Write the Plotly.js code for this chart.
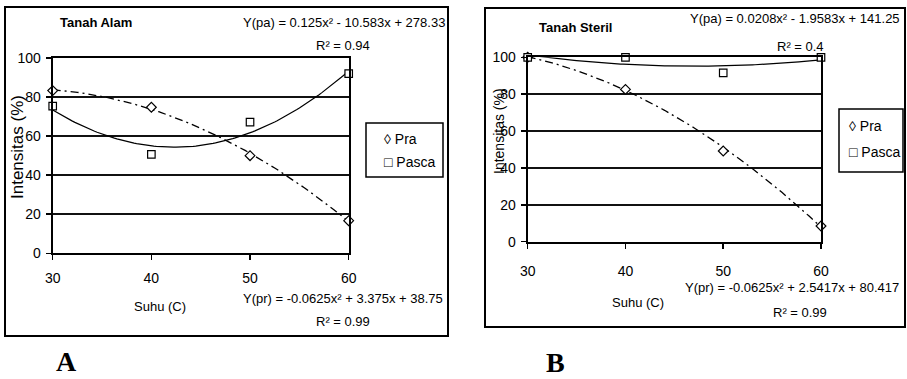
<!DOCTYPE html>
<html>
<head>
<meta charset="utf-8">
<script src="https://cdn.plot.ly/plotly-3.0.1.min.js"></script>
<style>html,body{margin:0;padding:0;background:#fff}#chart{width:907px;height:379px}</style>
</head>
<body>
<div id="chart"></div>
<script>
// ---- data ----
const suhu = [30, 40, 50, 60];                 // Suhu (C)
const alamPra = [83.3, 74.8, 50.0, 16.7];      // Tanah Alam, Pra
const alamPasca = [75.4, 50.7, 67.2, 92.0];    // Tanah Alam, Pasca
const sterilPra = [100.0, 82.6, 49.2, 8.5];    // Tanah Steril, Pra
const sterilPasca = [100.0, 100.0, 91.6, 100.0]; // Tanah Steril, Pasca
// trendline coefficients as printed on the chart [a, b, c] for a*x^2 + b*x + c
const alamPraFit = [-0.0625, 3.375, 38.75];
const alamPascaFit = [0.125, -10.583, 278.33];
const sterilPraFit = [-0.0625, 2.5417, 80.417];
const sterilPascaFit = [0.0208, -1.9583, 141.25];
const xTicks = [30, 40, 50, 60];
const yTicks = [0, 20, 40, 60, 80, 100];
const seriesNames = ['Pra', 'Pasca'];
const panelTitles = ['Tanah Alam', 'Tanah Steril'];
const panelLetters = ['A', 'B'];
const eqPa = ['Y(pa) = 0.125x\u00B2 - 10.583x + 278.33', 'Y(pa) = 0.0208x\u00B2 - 1.9583x + 141.25'];
const r2Pa = ['R\u00B2 = 0.94', 'R\u00B2 = 0.4'];
const eqPr = ['Y(pr) = -0.0625x\u00B2 + 3.375x + 38.75', 'Y(pr) = -0.0625x\u00B2 + 2.5417x + 80.417'];
const r2Pr = ['R\u00B2 = 0.99', 'R\u00B2 = 0.99'];

// ---- helpers ----
const W = 907, H = 379;
const px = v => v / W;
const py = v => 1 - v / H;
const SANS = "'Liberation Sans', Arial, sans-serif";
const SERIF = "'Liberation Serif', 'Times New Roman', serif";

function trend(coef, x0, x1) {
  const xs = [], ys = [];
  for (let i = 0; i <= 120; i++) {
    const x = x0 + (x1 - x0) * i / 120;
    xs.push(x);
    ys.push(coef[0] * x * x + coef[1] * x + coef[2]);
  }
  return {xs, ys};
}

const traces = [];
function addPanel(k, pra, pasca, praFit, pascaFit) {
  const xa = k === 0 ? 'x' : 'x2', ya = k === 0 ? 'y' : 'y2';
  const tp = trend(pascaFit, suhu[0], suhu[suhu.length - 1]);
  const tr = trend(praFit, suhu[0], suhu[suhu.length - 1]);
  traces.push({x: tp.xs, y: tp.ys, xaxis: xa, yaxis: ya, mode: 'lines', showlegend: false, hoverinfo: 'skip',
    line: {color: '#000', width: 1.2}});
  traces.push({x: tr.xs, y: tr.ys, xaxis: xa, yaxis: ya, mode: 'lines', showlegend: false, hoverinfo: 'skip',
    line: {color: '#000', width: 1.3, dash: '8px,4px,2px,4px'}});
  traces.push({x: suhu, y: pra, xaxis: xa, yaxis: ya, mode: 'markers', name: seriesNames[0], showlegend: false,
    cliponaxis: false, marker: {symbol: 'diamond', size: 7.5, color: '#fff', line: {color: '#000', width: 1.2}}});
  traces.push({x: suhu, y: pasca, xaxis: xa, yaxis: ya, mode: 'markers', name: seriesNames[1], showlegend: false,
    cliponaxis: false, marker: {symbol: 'square', size: 7.5, color: '#fff', line: {color: '#000', width: 1.2}}});
}
addPanel(0, alamPra, alamPasca, alamPraFit, alamPascaFit);
addPanel(1, sterilPra, sterilPasca, sterilPraFit, sterilPascaFit);

function xAxis(d0, d1, anchor, standoff) {
  return {domain: [px(d0), px(d1)], anchor: anchor, range: [xTicks[0], xTicks[xTicks.length - 1]],
    tickmode: 'array', tickvals: xTicks, ticks: 'outside', ticklen: 5, tickwidth: 1.5, tickcolor: '#000',
    showline: true, linewidth: 2, linecolor: '#000', mirror: true, showgrid: false, zeroline: false,
    tickfont: {family: SANS, size: 14, color: '#000'}, ticklabelstandoff: standoff};
}
function yAxis(top, bottom, anchor) {
  return {domain: [py(bottom), py(top)], anchor: anchor, range: [0, 100],
    tickmode: 'array', tickvals: yTicks, ticks: 'outside', ticklen: 5, tickwidth: 1.5, tickcolor: '#000',
    showline: true, linewidth: 2, linecolor: '#000', mirror: true, showgrid: true, gridcolor: '#111', gridwidth: 1.5,
    zeroline: false, tickfont: {family: SANS, size: 14, color: '#000'}, ticklabelstandoff: 2};
}

// panel geometry (pixels)
const P = [
  {box: [5, 7, 448, 336], plot: [52.7, 58, 348.7, 253.3], title: [58, 23], eqPa: [447, 23], r2Pa: [343, 45],
   xt: [160, 306], yt: [17, 147, 17], eqPr: [445, 298], r2Pr: [343, 321],
   leg: [366, 123, 443, 177], legText: [382, 139, 162], letter: [66, 361], xso: 6},
  {box: [485, 8, 905, 327], plot: [527.7, 57.3, 821, 241.7], title: [537, 27], eqPa: [902, 18], r2Pa: [800, 47],
   xt: [638, 302], yt: [499, 131, 14], eqPr: [901, 287], r2Pr: [800, 312],
   leg: [839, 109, 903, 172], legText: [847, 126, 152], letter: [555, 362], xso: 10}
];

const shapes = [], annotations = [];
const txt = (text, x, y, xanchor, size, fam, extra) => Object.assign({text, x: px(x), y: py(y), xref: 'paper', yref: 'paper',
  xanchor, yanchor: 'middle', showarrow: false, font: {family: fam || SANS, size: size || 13, color: '#000'}}, extra || {});

P.forEach((p, k) => {
  shapes.push({type: 'rect', xref: 'paper', yref: 'paper', x0: px(p.box[0]), x1: px(p.box[2]), y0: py(p.box[3]), y1: py(p.box[1]),
    line: {color: '#000', width: 2}});
  shapes.push({type: 'rect', xref: 'paper', yref: 'paper', x0: px(p.leg[0]), x1: px(p.leg[2]), y0: py(p.leg[3]), y1: py(p.leg[1]),
    line: {color: '#000', width: 1.5}, fillcolor: '#fff'});
  annotations.push(txt('<b>' + panelTitles[k] + '</b>', p.title[0], p.title[1], 'left', 13));
  annotations.push(txt(eqPa[k], p.eqPa[0], p.eqPa[1], 'right', 13));
  annotations.push(txt(r2Pa[k], p.r2Pa[0], p.r2Pa[1], 'center', 13));
  annotations.push(txt(eqPr[k], p.eqPr[0], p.eqPr[1], 'right', 13));
  annotations.push(txt(r2Pr[k], p.r2Pr[0], p.r2Pr[1], 'center', 13));
  annotations.push(txt('Suhu (C)', p.xt[0], p.xt[1], 'center', 13));
  annotations.push(txt('Intensitas (%)', p.yt[0], p.yt[1], 'center', p.yt[2], SANS, {textangle: -90}));
  annotations.push(txt('\u25CA ' + seriesNames[0], p.legText[0], p.legText[1], 'left', 14));
  annotations.push(txt('\u25A1 ' + seriesNames[1], p.legText[0], p.legText[2], 'left', 14));
  annotations.push(txt('<b>' + panelLetters[k] + '</b>', p.letter[0], p.letter[1], 'center', 28, SERIF));
});

const layout = {
  width: W, height: H, margin: {l: 0, r: 0, t: 0, b: 0}, paper_bgcolor: '#fff', plot_bgcolor: '#fff',
  showlegend: false,
  xaxis: xAxis(P[0].plot[0], P[0].plot[2], 'y', P[0].xso),
  yaxis: yAxis(P[0].plot[1], P[0].plot[3], 'x'),
  xaxis2: xAxis(P[1].plot[0], P[1].plot[2], 'y2', P[1].xso),
  yaxis2: yAxis(P[1].plot[1], P[1].plot[3], 'x2'),
  shapes, annotations
};
Plotly.newPlot('chart', traces, layout, {staticPlot: true, displayModeBar: false});
</script>
</body>
</html>
